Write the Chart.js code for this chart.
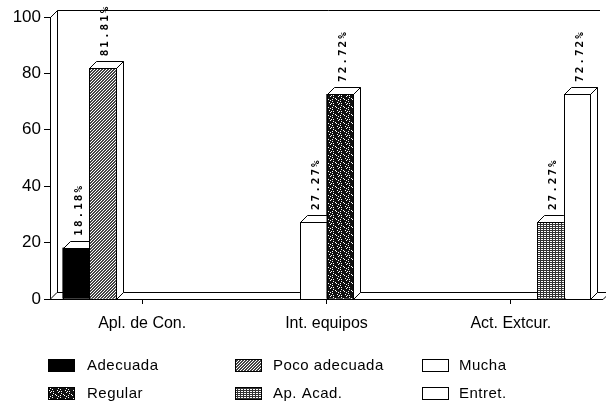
<!DOCTYPE html>
<html>
<head>
<meta charset="utf-8">
<script src="https://cdn.jsdelivr.net/npm/chart.js@4.4.0/dist/chart.umd.min.js"></script>
<style>
  html, body { margin: 0; padding: 0; background: #fff; }
  #wrap { width: 606px; height: 401px; }
</style>
</head>
<body>
<div id="wrap"><canvas id="chart" width="606" height="401"></canvas></div>
<script>
/* ---------- DATA ---------- */
const categories = ["Apl. de Con.", "Int. equipos", "Act. Extcur."];
const seriesNames = ["Adecuada", "Poco adecuada", "Mucha", "Regular", "Ap. Acad.", "Entret."];

const adecuada     = [18.18, null, null];
const pocoAdecuada = [81.81, null, null];
const mucha        = [null, 27.27, null];
const regular      = [null, 72.72, null];
const apAcad       = [null, null, 27.27];
const entret       = [null, null, 72.72];

const yMin = 0, yMax = 100, yStep = 20;

/* ---------- PATTERNS ---------- */
function tile(w, h, ink, fn) {
  const c = document.createElement("canvas");
  c.width = w; c.height = h;
  const g = c.getContext("2d");
  g.fillStyle = "#fff";
  g.fillRect(0, 0, w, h);
  g.fillStyle = ink;
  for (let y = 0; y < h; y++)
    for (let x = 0; x < w; x++)
      if (fn(x, y)) g.fillRect(x, y, 1, 1);
  return g.createPattern(c, "repeat");
}

// fine diagonal hatch (mid grey)
const hatchDiag = tile(3, 3, "#444", (x, y) => ((x + y) % 3) !== 1);
// dark speckle
const speckleRows = [
  "11011111",
  "11111011",
  "11111110",
  "01110111",
  "11011111",
  "11110111",
  "10111111",
  "11101011"
];
const speckle = tile(8, 8, "#111", (x, y) => speckleRows[y][x] === "1");
// fine grid
const grid = tile(3, 2, "#333", (x, y) => x === 0 || y === 0);

const fills = ["#000", hatchDiag, "#fff", speckle, grid, "#fff"];
const seriesData = [adecuada, pocoAdecuada, mucha, regular, apAcad, entret];

const DEPTH = 7;

/* ---------- 3D + FRAME PLUGIN ---------- */
const frame3d = {
  id: "frame3d",
  beforeDraw(chart) {
    const ctx = chart.ctx;
    ctx.save();
    ctx.fillStyle = "#fff";
    ctx.fillRect(0, 0, chart.width, chart.height);
    ctx.restore();
  },
  beforeDatasetsDraw(chart) {
    const { ctx, chartArea: a } = chart;
    const d = DEPTH;
    ctx.save();
    ctx.strokeStyle = "#000";
    ctx.lineWidth = 1;
    // back wall
    ctx.beginPath();
    ctx.moveTo(a.left + 0.5, a.top + 0.5);
    ctx.lineTo(a.left + d + 0.5, a.top - d + 0.5);
    ctx.lineTo(a.right - 3, a.top - d + 0.5);
    ctx.moveTo(a.left + d + 0.5, a.top - d + 0.5);
    ctx.lineTo(a.left + d + 0.5, a.bottom - d + 0.5);
    ctx.stroke();
    // floor
    ctx.beginPath();
    ctx.moveTo(a.left, a.bottom + 0.5);
    ctx.lineTo(a.left + d, a.bottom - d + 0.5);
    ctx.lineTo(a.right + d, a.bottom - d + 0.5);
    ctx.lineTo(a.right, a.bottom + 0.5);
    ctx.closePath();
    ctx.fillStyle = "#fff";
    ctx.fill();
    ctx.stroke();
    ctx.restore();
  },
  afterDatasetsDraw(chart) {
    const ctx = chart.ctx;
    const d = DEPTH;
    // redraw bars left to right so each front face hides its neighbour's side face
    chart.data.datasets.forEach((ds, di) => {
      const meta = chart.getDatasetMeta(di);
      meta.data.forEach((el, i) => {
        const v = ds.data[i];
        if (v === null || v === undefined) return;
        el.draw(ctx, chart.chartArea);
        const { x, y, base, width } = el.getProps(["x", "y", "base", "width"], true);
        const l = Math.round(x - width / 2) + 0.5;
        const r = Math.round(x + width / 2) + 0.5;
        const t = Math.round(y) + 0.5;
        const b = Math.round(base) + 0.5;
        ctx.save();
        ctx.strokeStyle = "#000";
        ctx.lineWidth = 1;
        ctx.fillStyle = "#fff";
        // top face
        ctx.beginPath();
        ctx.moveTo(l, t);
        ctx.lineTo(l + d, t - d);
        ctx.lineTo(r + d, t - d);
        ctx.lineTo(r, t);
        ctx.closePath();
        ctx.fill();
        ctx.stroke();
        // side face
        ctx.beginPath();
        ctx.moveTo(r, t);
        ctx.lineTo(r + d, t - d);
        ctx.lineTo(r + d, b - d);
        ctx.lineTo(r, b);
        ctx.closePath();
        ctx.fill();
        ctx.stroke();
        // front outline
        ctx.strokeRect(l, t, r - l, b - t);
        ctx.restore();
      });
    });

    // value labels
    ctx.save();
    ctx.fillStyle = "#000";
    ctx.font = "bold 11px 'DejaVu Sans Mono'";
    ctx.letterSpacing = "2px";
    ctx.textAlign = "left";
    ctx.textBaseline = "middle";
    chart.data.datasets.forEach((ds, di) => {
      const meta = chart.getDatasetMeta(di);
      meta.data.forEach((el, i) => {
        const v = ds.data[i];
        if (v === null || v === undefined) return;
        ctx.save();
        ctx.translate(el.x + 3, el.y - DEPTH - 5);
        ctx.rotate(-Math.PI / 2);
        ctx.fillText(v.toFixed(2) + "%", 0, 0);
        ctx.restore();
      });
    });
    ctx.restore();
  },
  afterDraw(chart) {
    // legend: 3 columns, 2 rows
    const ctx = chart.ctx;
    const colBox = [48, 235, 422];
    const colText = [87, 273, 459];
    const rowY = [365, 393];
    ctx.save();
    ctx.font = "15px 'Liberation Sans'";
    ctx.letterSpacing = "0.5px";
    ctx.textBaseline = "middle";
    ctx.textAlign = "left";
    ctx.strokeStyle = "#000";
    ctx.lineWidth = 1;
    chart.data.datasets.forEach((ds, i) => {
      const c = i % 3, r = Math.floor(i / 3);
      const bx = colBox[c] + 0.5, by = rowY[r] - 6 + 0.5;
      ctx.fillStyle = ds.backgroundColor;
      ctx.fillRect(bx, by, 26, 12);
      ctx.strokeRect(bx, by, 26, 12);
      ctx.fillStyle = "#000";
      ctx.fillText(ds.label, colText[c], rowY[r] + 1);
    });
    ctx.restore();
  }
};

/* ---------- CHART ---------- */
const datasets = seriesNames.map((name, i) => ({
  label: name,
  data: seriesData[i],
  backgroundColor: fills[i],
  borderColor: "#000",
  borderWidth: 0,
  categoryPercentage: 0.863,
  barPercentage: 1.0
}));

new Chart(document.getElementById("chart"), {
  type: "bar",
  data: { labels: categories, datasets },
  options: {
    responsive: false,
    animation: false,
    devicePixelRatio: 1,
    layout: { padding: { top: 17, right: 3, bottom: 66, left: 0 } },
    plugins: {
      legend: { display: false },
      tooltip: { enabled: false }
    },
    scales: {
      x: {
        afterFit: s => { s.height = 36; },
        border: { display: false },
        grid: { offset: false, drawOnChartArea: false, drawTicks: true, tickLength: 5, color: "#000" },
        ticks: { color: "#000", padding: 10, font: { family: "Liberation Sans", size: 16 } }
      },
      y: {
        min: yMin,
        max: yMax,
        afterFit: s => { s.width = 50; },
        border: { display: true, color: "#000", width: 1 },
        grid: { drawOnChartArea: false, drawTicks: true, tickLength: 6, color: "#000" },
        ticks: { stepSize: yStep, color: "#000", padding: 3, font: { family: "Liberation Sans", size: 17 } }
      }
    }
  },
  plugins: [frame3d]
});
</script>
</body>
</html>
